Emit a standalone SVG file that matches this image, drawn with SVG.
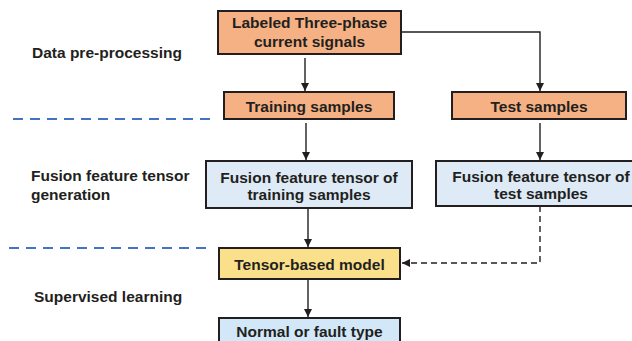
<svg xmlns="http://www.w3.org/2000/svg" width="632" height="341" viewBox="0 0 632 341">
<defs>
<marker id="ah" viewBox="0 0 10 10" refX="10" refY="5" markerWidth="8" markerHeight="8" markerUnits="userSpaceOnUse" orient="auto">
<path d="M0,0 L10,5 L0,10 z" fill="#231f20"/>
</marker>
<style>
text{font-family:"Liberation Sans",Arial,sans-serif;font-weight:bold;fill:#231f20;font-size:15.5px}
.c{text-anchor:middle}
.box{stroke:#231f20;stroke-width:2}
.or{fill:#f5b183}
.bl{fill:#deebf7}
.bl2{fill:#d2e8f8}
.ye{fill:#fbe08c}
.sep{stroke:#4472c4;stroke-width:2.2;stroke-dasharray:10 7;fill:none}
.ln{stroke:#231f20;stroke-width:1.4;fill:none}
.dl{stroke:#231f20;stroke-width:1.4;fill:none;stroke-dasharray:6 4}
</style>
</defs>
<rect width="632" height="341" fill="#fff"/>
<g id="separators">
<line class="sep" x1="13" y1="119" x2="215" y2="119"/>
<line class="sep" x1="9" y1="248" x2="212" y2="248"/>
</g>
<g id="stage-labels">
<text x="32" y="58">Data pre-processing</text>
<text x="31" y="181">Fusion feature tensor</text>
<text x="31" y="200">generation</text>
<text x="34" y="302">Supervised learning</text>
</g>
<g id="connectors">
<line class="ln" x1="305" y1="58" x2="305" y2="91" marker-end="url(#ah)"/>
<polyline class="ln" points="401,32 540,32 540,91" marker-end="url(#ah)"/>
<line class="ln" x1="306" y1="123" x2="306" y2="160" marker-end="url(#ah)"/>
<line class="ln" x1="540" y1="123" x2="540" y2="160" marker-end="url(#ah)"/>
<line class="ln" x1="308" y1="208" x2="308" y2="247" marker-end="url(#ah)"/>
<polyline class="dl" points="540,206 540,263 402,263" marker-end="url(#ah)"/>
<line class="ln" x1="308" y1="279" x2="308" y2="317" marker-end="url(#ah)"/>
</g>
<g id="n-signals">
<rect class="box or" x="218" y="11" width="183" height="43"/>
<text class="c" x="309.5" y="28">Labeled Three-phase</text>
<text class="c" x="309.5" y="47">current signals</text>
</g>
<g id="n-train">
<rect class="box or" x="224" y="92" width="170" height="27"/>
<text class="c" x="309" y="112">Training samples</text>
</g>
<g id="n-test">
<rect class="box or" x="452" y="92" width="174" height="27"/>
<text class="c" x="539" y="112">Test samples</text>
</g>
<g id="n-fusion-train">
<rect class="box bl" x="206" y="161" width="206" height="47"/>
<text class="c" x="309" y="183">Fusion feature tensor of</text>
<text class="c" x="309" y="200">training samples</text>
</g>
<g id="n-fusion-test">
<rect class="box bl" x="436" y="161" width="210" height="45"/>
<text class="c" x="541" y="182">Fusion feature tensor of</text>
<text class="c" x="541" y="199">test samples</text>
</g>
<g id="n-model">
<rect class="box ye" x="219" y="248" width="181" height="31"/>
<text class="c" x="309.5" y="270">Tensor-based model</text>
</g>
<g id="n-output">
<rect class="box bl2" x="219" y="318" width="181" height="30"/>
<text class="c" x="309.5" y="337">Normal or fault type</text>
</g>
</svg>
